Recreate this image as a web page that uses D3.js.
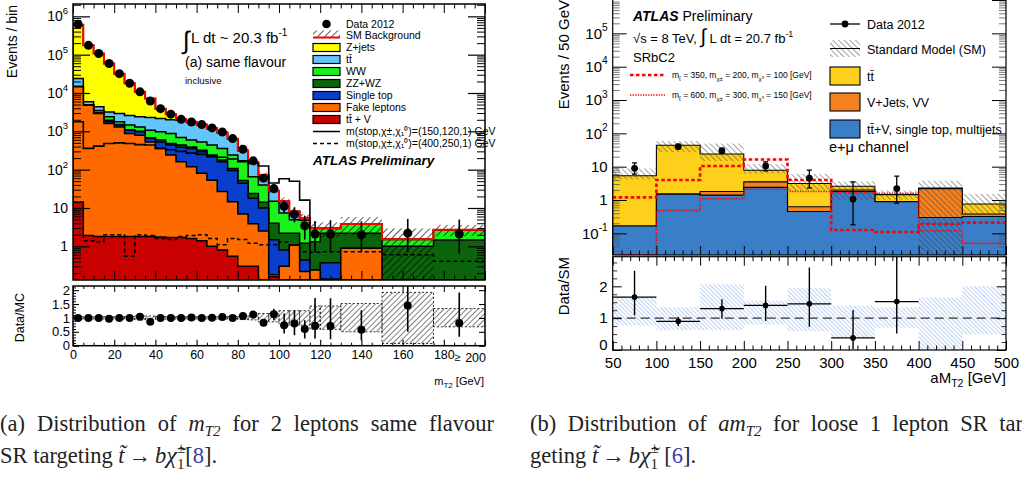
<!DOCTYPE html>
<html>
<head>
<meta charset="utf-8">
<script src="https://cdn.jsdelivr.net/npm/d3@7"></script>
<style>
  body { margin: 0; background: #fff; }
  svg { display: block; font-family: "Liberation Sans", Arial, sans-serif; }
  .cap { font-family: "Liberation Serif", "Times New Roman", serif; font-size: 22.5px; fill: #222; }
</style>
</head>
<body>
<script>
// ---------- left: mT2, 2 leptons same flavour ----------
const binsL = [0, 5, 10, 15, 20, 25, 30, 35, 40, 45, 50, 55, 60, 65, 70, 75, 80, 85, 90, 95,
  100, 105, 110, 115, 120, 130, 150, 175, 200];
const ttvL = [14, 1.9, 1.8, 1.8, 1.8, 1.8, 1.8, 1.8, 1.75, 1.7, 1.7, 1.6, 1.4, 1.0, 0.8, 0.55, 0.3, 0.3,
  0, 0.16, 0, 0, 0, 0, 0, 0, 0, 0];
const fakeL = [14500, 4800, 2900, 1600, 1300, 870, 790, 525, 355, 240, 160, 117, 79, 52, 26, 14, 6.7, 3.6,
  2.5, 0.02, 0.3, 1.07, 0.22, 0.24, 0.14, 0.89, 0, 0];
const stopL = [100, 50, 100, 180, 150, 200, 180, 125, 170, 200, 220, 238, 211, 163, 134, 80, 37, 14,
  7.5, 1.3, 0.5, 0, 0.22, 0, 0.23, 0, 0, 0];
const zzwzL = [100, 50, 100, 170, 50, 30, 30, 30, 65, 40, 60, 35, 30, 25, 18, 12, 8, 6,
  4, 2.5, 1.4, 1.13, 0.76, 1.08, 1.83, 1.31, 1.0, 1.46];
const wwL = [100, 50, 400, 450, 280, 350, 300, 390, 390, 390, 250, 200, 205, 200, 177, 133, 108, 41,
  26, 11, 5.2, 2.7, 3.6, 1.58, 0.7, 1.55, 0.5, 1.22];
const ttL = [9200, 950, 900, 800, 1120, 1150, 1100, 1230, 1170, 1130, 1260, 1110, 925, 710, 545, 390, 150, 87,
  28, 12, 7.1, 3.15, 0.5, 0.05, 0.03, 0.03, 0.01, 0.01];
const zjL = [576000, 169000, 102600, 55800, 29100, 15400, 8300, 4900, 1750, 800, 100, 80, 50, 70, 35, 15, 5, 3,
  4, 1, 0.5, 0.05, 0.2, 0.05, 0.02, 0.02, 0.01, 0.01];
const dataL = [620000, 175000, 107000, 59000, 32000, 18000, 10700, 6200, 3900, 2800, 2050, 1750, 1500, 1230,
  960, 645, 340, 170, 60, 32, 11, 6.8, 3.4, 2.1, 2.1, 2.0, 2.2, 2.1];
const dataErrLoL = [790, 420, 330, 240, 180, 130, 100, 80, 62, 53, 45, 42, 39, 35, 31, 25, 18, 13,
  8, 6, 3.6, 2.6, 1.9, 1.4, 1.4, 1.3, 1.5, 1.45];
const dataErrHiL = [790, 420, 330, 240, 180, 130, 100, 80, 62, 53, 45, 42, 39, 35, 31, 25, 18, 13,
  8, 6, 4.6, 3.6, 2.9, 2.5, 2.7, 2.5, 3.0, 2.9];
const sig150L = [1770, 360, 410, 480, 500, 480, 450, 440, 360, 330, 300, 270, 250, 230, 210, 190, 170, 145,
  125, 45, 58, 50, 16, 0.1, 0.1, 0.1, 0.1, 0.1];
const sig400L = [14, 1.4, 1.3, 2.0, 2.0, 0.55, 2.0, 1.9, 1.6, 1.5, 1.8, 1.9, 2.0, 1.6, 1.1, 1.6, 1.5, 1.2,
  1.1, 1.1, 1.3, 1.1, 0.72, 0.7, 0.72, 0.72, 0.6, 0.41];
const ratioL = [1.0, 1.0, 1.0, 0.97, 1.0, 1.0, 1.04, 0.86, 1.0, 1.0, 1.0, 1.02, 1.0, 1.01, 1.03, 1.0, 1.07, 1.12,
  0.83, 1.13, 0.74, 0.8, 0.6, 0.72, 0.71, 0.57, 1.45, 0.82];
const ratioErrLoL = [0.01, 0.01, 0.01, 0.01, 0.01, 0.01, 0.01, 0.02, 0.02, 0.02, 0.02, 0.03, 0.03, 0.03, 0.03,
  0.04, 0.05, 0.08, 0.12, 0.2, 0.3, 0.42, 0.34, 0.46, 0.48, 0.37, 0.95, 0.5];
const ratioErrHiL = [0.01, 0.01, 0.01, 0.01, 0.01, 0.01, 0.01, 0.02, 0.02, 0.02, 0.02, 0.03, 0.03, 0.03, 0.03,
  0.04, 0.05, 0.08, 0.12, 0.2, 0.42, 0.48, 0.32, 1.0, 1.0, 0.71, 0.9, 1.1];
const bandLoL = [0.96, 0.96, 0.96, 0.96, 0.96, 0.95, 0.93, 0.93, 0.95, 0.96, 0.96, 0.96, 0.96, 0.96, 0.96,
  0.95, 0.94, 0.93, 0.86, 0.86, 0.74, 0.74, 0.74, 0.59, 0.59, 0.5, 0.08, 0.68];
const bandHiL = [1.04, 1.04, 1.04, 1.04, 1.04, 1.05, 1.07, 1.07, 1.05, 1.04, 1.04, 1.04, 1.04, 1.04, 1.04,
  1.05, 1.06, 1.07, 1.16, 1.16, 1.26, 1.26, 1.26, 1.43, 1.43, 1.52, 1.92, 1.34];

// ---------- right: amT2, loose 1 lepton ----------
const binsR = [50, 100, 150, 200, 250, 300, 350, 400, 450, 500];
const otherR = [0.166, 1.5, 1.4, 2.4, 0.45, 1.8, 0.89, 0.30, 0.32];
const vjetsR = [0, 0.02, 0.4, 1.1, 0.18, 0.2, 0.01, 1.9, 0.06];
const ttR = [5.2, 42.5, 22.2, 4.3, 2.5, 0.6, 0.55, 0.1, 0.38];
const dataR = [8.9, 40, 30, 10.5, 4.5, 1.07, 2.2];
const dataLoR = [6, 34, 25, 7.5, 2.3, 0.18, 0.8];
const dataHiR = [13, 47, 36, 14, 7.9, 3.5, 5.2];
const ratioR = [1.66, 0.9, 1.3, 1.4, 1.45, 0.38, 1.52];
const ratioLoR = [1.09, 0.75, 0.98, 0.91, 0.73, 0.02, 0.52];
const ratioHiR = [2.49, 1.04, 1.59, 2.02, 2.59, 1.26, 2.95];
const bandLoR = [0.77, 0.62, 0.62, 0.8, 0.59, 0.39, 0.7, 0, 0.49];
const bandHiR = [1.65, 1.34, 2.06, 1.55, 1.94, 1.39, 1.34, 1.65, 2.01];
const sigAR = [1.2, 4.0, 10.5, 16.5, 4.0, 0.126, 0.11, 0.19, 0.21];
const sigBR = [0.023, 0.48, 1.1, 2.1, 1.8, 1.65, 1.6, 0.12, 0.05];

const svg = d3.select('body').append('svg').attr('width', 1022).attr('height', 477);
const defs = svg.append('defs');

function hatch(id, angle, gap, color, sw) {
  const p = defs.append('pattern').attr('id', id).attr('patternUnits', 'userSpaceOnUse')
    .attr('width', gap).attr('height', gap).attr('patternTransform', `rotate(${angle})`);
  p.append('line').attr('x1', 0).attr('y1', 0).attr('x2', 0).attr('y2', gap)
    .attr('stroke', color).attr('stroke-width', sw);
}
hatch('hL', 45, 5, '#000', 1.3);
hatch('hLr', 45, 4, '#000', 1);
hatch('hR', -45, 4, '#333', 0.9);
hatch('hRr', -45, 3, '#86aaea', 1.1);

function clip(id, x0, y0, x1, y1) {
  defs.append('clipPath').attr('id', id).append('rect')
    .attr('x', x0).attr('y', y0).attr('width', x1 - x0).attr('height', y1 - y0);
}

// step points for a histogram
function steps(edges, vals, x, y) {
  const pts = [];
  vals.forEach((v, i) => { pts.push([x(edges[i]), y(v)]); pts.push([x(edges[i + 1]), y(v)]); });
  return pts;
}
const line = d3.line();

function drawStack(g, edges, series, colors, x, y, bottom, sw) {
  for (let k = series.length - 1; k >= 0; k--) {
    const pts = steps(edges, series[k].map(d => d[1]), x, y);
    const poly = [[pts[0][0], bottom], ...pts, [pts[pts.length - 1][0], bottom]];
    g.append('path').attr('d', line(poly) + 'Z').attr('fill', colors[k])
      .attr('stroke', '#000').attr('stroke-width', sw);
  }
}

function logTicks(scale) {
  const [a, b] = scale.domain();
  const major = [], minor = [];
  for (let e = Math.floor(Math.log10(a)); e <= Math.ceil(Math.log10(b)); e++) {
    for (let k = 1; k < 10; k++) {
      const v = k * Math.pow(10, e);
      if (v < a || v > b) continue;
      (k === 1 ? major : minor).push(v);
    }
  }
  return { major, minor };
}

function yAxis(g, scale, x, vals, len, side, sw) {
  const ax = (side === 'left' ? d3.axisLeft(scale) : d3.axisRight(scale))
    .tickValues(vals).tickSizeInner(-len).tickSizeOuter(0).tickFormat('').tickPadding(5);
  const a = g.append('g').attr('transform', `translate(${x},0)`).call(ax);
  a.select('.domain').remove();
  a.selectAll('line').attr('stroke-width', sw || 1);
  return a;
}
function xAxis(g, scale, y, vals, len, side, sw) {
  const ax = (side === 'bottom' ? d3.axisBottom(scale) : d3.axisTop(scale))
    .tickValues(vals).tickSizeInner(-len).tickSizeOuter(0).tickFormat('').tickPadding(4);
  const a = g.append('g').attr('transform', `translate(0,${y})`).call(ax);
  a.select('.domain').remove();
  a.selectAll('line').attr('stroke-width', sw || 1);
  return a;
}

function powLabels(a, size) {
  a.selectAll('.tick text').each(function (d) {
    const t = d3.select(this).attr('font-size', size).attr('font-family', null).attr('fill', '#000');
    const e = Math.round(Math.log10(d));
    if (e === 0) t.text('1');
    else if (e === 1) t.text('10');
    else {
      t.append('tspan').text('10');
      t.append('tspan').attr('dy', -size * 0.5).attr('font-size', size * 0.68).text(e);
    }
  });
}

// rich text: parts = [str, opts]
function rich(t, parts) {
  let shift = 0;
  parts.forEach(([s, o = {}]) => {
    const sp = t.append('tspan').text(s);
    const want = o.sub ? o.sub : o.sup ? -o.sup : 0;
    if (want !== shift) { sp.attr('dy', want - shift); shift = want; }
    if (o.i) sp.attr('font-style', 'italic');
    if (o.b) sp.attr('font-weight', 'bold');
    if (o.size) sp.attr('font-size', o.size);
    if (o.fill) sp.attr('fill', o.fill);
    if (o.dx) sp.attr('dx', o.dx);
  });
  return t;
}

// ================= LEFT PANEL =================
const xL = d3.scaleLinear().domain([0, 200]).range([73, 485]);
const yL = d3.scaleLog().domain([0.132, 2.1e6]).range([280, 4]).clamp(true);
const ysL = v => yL(Math.max(v, 1e-6));
const yLr = d3.scaleLinear().domain([0, 2.15]).range([345.7, 286]);
clip('cL', 73, 4, 485, 280);
clip('cLr', 73, 286, 485, 345.7);

const keysL = ['ttv', 'fake', 'stop', 'zzwz', 'ww', 'tt', 'zj'];
const colorsL = ['#c80000', '#ff6a00', '#0a3fce', '#0b640b', '#1bf21b', '#62c6fb', '#ffff00'];
const rowsL = dataL.map((_, i) => ({ ttv: ttvL[i], fake: fakeL[i], stop: stopL[i], zzwz: zzwzL[i],
  ww: wwL[i], tt: ttL[i], zj: zjL[i] }));
const stackL = d3.stack().keys(keysL)(rowsL);
const totalL = stackL[stackL.length - 1].map(d => d[1]);
const midL = i => (binsL[i] + binsL[i + 1]) / 2;

const pL = svg.append('g').attr('clip-path', 'url(#cL)');
drawStack(pL, binsL, stackL, colorsL, xL, ysL, 281, 1.5);
pL.selectAll('rect.band').data(totalL).join('rect').attr('class', 'band')
  .attr('x', (d, i) => xL(binsL[i])).attr('width', (d, i) => xL(binsL[i + 1]) - xL(binsL[i]))
  .attr('y', (d, i) => ysL(d * bandHiL[i]))
  .attr('height', (d, i) => ysL(d * bandLoL[i]) - ysL(d * bandHiL[i]))
  .attr('fill', 'url(#hL)');
pL.append('path').attr('d', line(steps(binsL, totalL, xL, ysL)))
  .attr('fill', 'none').attr('stroke', '#ff0000').attr('stroke-width', 2);
pL.append('path').attr('d', line(steps(binsL, sig150L, xL, ysL)))
  .attr('fill', 'none').attr('stroke', '#000').attr('stroke-width', 1.6);
pL.append('path').attr('d', line(steps(binsL, sig400L, xL, ysL)))
  .attr('fill', 'none').attr('stroke', '#000').attr('stroke-width', 1.5).attr('stroke-dasharray', '4,3');
pL.selectAll('line.err').data(dataL).join('line').attr('class', 'err')
  .attr('x1', (d, i) => xL(midL(i))).attr('x2', (d, i) => xL(midL(i)))
  .attr('y1', (d, i) => ysL(d - dataErrLoL[i])).attr('y2', (d, i) => ysL(d + dataErrHiL[i]))
  .attr('stroke', '#000').attr('stroke-width', 1.6);
pL.selectAll('circle').data(dataL).join('circle')
  .attr('cx', (d, i) => xL(midL(i))).attr('cy', d => ysL(d)).attr('r', 4.5).attr('fill', '#000');

const tL = logTicks(yL);
powLabels(yAxis(svg, yL, 73, tL.major, 17, 'left', 1.2), 14);
yAxis(svg, yL, 73, tL.minor, 8, 'left', 1);
yAxis(svg, yL, 485, tL.major, 17, 'right', 1.2);
yAxis(svg, yL, 485, tL.minor, 8, 'right', 1);
const x20 = d3.range(0, 201, 20), x5 = d3.range(0, 201, 5).filter(v => v % 20);
xAxis(svg, xL, 4, x20, 9, 'top'); xAxis(svg, xL, 4, x5, 4.5, 'top');
xAxis(svg, xL, 280, x20, 9, 'bottom'); xAxis(svg, xL, 280, x5, 4.5, 'bottom');
svg.append('rect').attr('x', 73).attr('y', 4).attr('width', 412).attr('height', 276)
  .attr('fill', 'none').attr('stroke', '#000').attr('stroke-width', 1.5);

// ratio (left)
const rL = svg.append('g').attr('clip-path', 'url(#cLr)');
rL.selectAll('rect.band').data(bandLoL).join('rect').attr('class', 'band')
  .attr('x', (d, i) => xL(binsL[i])).attr('width', (d, i) => xL(binsL[i + 1]) - xL(binsL[i]))
  .attr('y', (d, i) => yLr(bandHiL[i])).attr('height', (d, i) => yLr(d) - yLr(bandHiL[i]))
  .attr('fill', 'url(#hLr)').attr('stroke', '#000').attr('stroke-width', 0.8).attr('stroke-dasharray', '2,2');
rL.selectAll('line.err').data(ratioL).join('line').attr('class', 'err')
  .attr('x1', (d, i) => xL(midL(i))).attr('x2', (d, i) => xL(midL(i)))
  .attr('y1', (d, i) => yLr(d - ratioErrLoL[i])).attr('y2', (d, i) => yLr(d + ratioErrHiL[i]))
  .attr('stroke', '#000').attr('stroke-width', 1.6);
rL.selectAll('circle').data(ratioL).join('circle')
  .attr('cx', (d, i) => xL(midL(i))).attr('cy', d => yLr(d)).attr('r', 4).attr('fill', '#000');

const ryL = yAxis(svg, yLr, 73, [0, 0.5, 1, 1.5, 2], 6, 'left', 1.1);
ryL.selectAll('.tick text').attr('font-size', 13).attr('font-family', null).attr('fill', '#000')
  .attr('dx', 2).text(d => d);
yAxis(svg, yLr, 73, d3.range(0.1, 2.15, 0.1).filter(v => Math.abs(v * 2 - Math.round(v * 2)) > 0.01), 3, 'left');
yAxis(svg, yLr, 485, [0, 0.5, 1, 1.5, 2], 6, 'right', 1.1);
const bxL = xAxis(svg, xL, 345.7, x20, 6, 'bottom', 1.1);
bxL.selectAll('.tick text').attr('font-size', 12.5).attr('font-family', null).attr('fill', '#000')
  .text(d => (d === 200 ? '' : d));
xAxis(svg, xL, 345.7, x5, 3, 'bottom');
xAxis(svg, xL, 286, x20, 6, 'top'); xAxis(svg, xL, 286, x5, 3, 'top');
svg.append('text').attr('x', xL(186.5)).attr('y', 361).attr('text-anchor', 'middle')
  .attr('font-size', 11).text('\u2265');
svg.append('text').attr('x', xL(200) + 1).attr('y', 362).attr('text-anchor', 'end')
  .attr('font-size', 12.5).text('200');
svg.append('rect').attr('x', 73).attr('y', 286).attr('width', 412).attr('height', 59.7)
  .attr('fill', 'none').attr('stroke', '#000').attr('stroke-width', 1.5);

// left titles
svg.append('text').attr('transform', 'translate(17,5) rotate(-90)').attr('text-anchor', 'end')
  .attr('font-size', 14).text('Events / bin');
svg.append('text').attr('transform', 'translate(24,293) rotate(-90)').attr('text-anchor', 'end')
  .attr('font-size', 12.5).text('Data/MC');
rich(svg.append('text').attr('x', 484).attr('y', 385).attr('text-anchor', 'end').attr('font-size', 11),
  [['m'], ['T2', { sub: 3, size: 8 }], [' [GeV]']]);

svg.append('text').attr('x', 183).attr('y', 49).attr('font-size', 25).text('\u222B');
rich(svg.append('text').attr('x', 191).attr('y', 43).attr('font-size', 15),
  [['L dt ~ 20.3 fb'], ['-1', { sup: 7, size: 10 }]]);
svg.append('text').attr('x', 185).attr('y', 67).attr('font-size', 14).text('(a) same flavour');
svg.append('text').attr('x', 185).attr('y', 84).attr('font-size', 9.5).text('inclusive');

// left legend
const legL = svg.append('g').attr('font-size', 10.5);
const legRows = [24, 35.5, 47.5, 59.5, 71.5, 83.5, 95.5, 107.5, 119.5, 131.5, 143.5];
const legNames = ['Data 2012', 'SM Background', 'Z+jets', 't\u0074\u0304', 'WW', 'ZZ+WZ', 'Single top',
  'Fake leptons', 't\u0074\u0304 + V', 'm(stop,\u03C7\u00B1,\u03C7\u2081\u2070)=(150,120,1) GeV',
  'm(stop,\u03C7\u00B1,\u03C7\u2081\u2070)=(400,250,1) GeV'];
legNames.forEach((n, i) => {
  legL.append('text').attr('x', 346).attr('y', legRows[i] + 3.8).text(n);
});
legL.append('circle').attr('cx', 326.5).attr('cy', legRows[0]).attr('r', 4.3);
legL.append('rect').attr('x', 313).attr('y', legRows[1] - 5).attr('width', 27).attr('height', 8).attr('fill', 'url(#hL)');
legL.append('line').attr('x1', 313).attr('x2', 340).attr('y1', legRows[1] + 2).attr('y2', legRows[1] + 2)
  .attr('stroke', '#f00').attr('stroke-width', 2);
colorsL.slice().reverse().forEach((c, k) => {
  legL.append('rect').attr('x', 313).attr('y', legRows[2 + k] - 4).attr('width', 27).attr('height', 8)
    .attr('fill', c).attr('stroke', '#000').attr('stroke-width', 1.2);
});
legL.append('line').attr('x1', 313).attr('x2', 340).attr('y1', legRows[9]).attr('y2', legRows[9])
  .attr('stroke', '#000').attr('stroke-width', 1.5);
legL.append('line').attr('x1', 313).attr('x2', 340).attr('y1', legRows[10]).attr('y2', legRows[10])
  .attr('stroke', '#000').attr('stroke-width', 1.5).attr('stroke-dasharray', '4,3');
svg.append('text').attr('x', 313).attr('y', 165).attr('font-size', 13.5).attr('font-weight', 'bold')
  .attr('font-style', 'italic').text('ATLAS Preliminary');

// ================= RIGHT PANEL =================
const xR = d3.scaleLinear().domain([50, 500]).range([612.7, 1006]);
const yR = d3.scaleLog().domain([0.0224, 1.15e6]).range([255, -2]).clamp(true);
const ysR = v => yR(Math.max(v, 1e-6));
const yRr = d3.scaleLinear().domain([0, 2.93]).range([350, 256.7]);
clip('cR', 612.7, -2, 1006, 255);
clip('cRr', 612.7, 256.7, 1006, 350);

const keysR = ['other', 'vjets', 'tt'];
const colorsR = ['#3a7ec8', '#f58220', '#fdd01c'];
const rowsR = ttR.map((_, i) => ({ other: otherR[i], vjets: vjetsR[i], tt: ttR[i] }));
const stackR = d3.stack().keys(keysR)(rowsR);
const totalR = stackR[stackR.length - 1].map(d => d[1]);
const midR = i => (binsR[i] + binsR[i + 1]) / 2;

const pR = svg.append('g').attr('clip-path', 'url(#cR)');
drawStack(pR, binsR, stackR, colorsR, xR, ysR, 256, 1.1);
pR.selectAll('rect.band').data(totalR).join('rect').attr('class', 'band')
  .attr('x', (d, i) => xR(binsR[i])).attr('width', (d, i) => xR(binsR[i + 1]) - xR(binsR[i]))
  .attr('y', (d, i) => ysR(d * bandHiR[i]))
  .attr('height', (d, i) => ysR(d * bandLoR[i]) - ysR(d * bandHiR[i]))
  .attr('fill', 'url(#hR)');
pR.append('path').attr('d', line(steps(binsR, sigAR, xR, ysR)))
  .attr('fill', 'none').attr('stroke', '#ff0000').attr('stroke-width', 2.6).attr('stroke-dasharray', '3.5,2.5');
pR.append('path').attr('d', line(steps(binsR, sigBR, xR, ysR)))
  .attr('fill', 'none').attr('stroke', '#ff0000').attr('stroke-width', 1.6).attr('stroke-dasharray', '1.3,1.3');
const eR = pR.append('g').attr('stroke', '#000').attr('stroke-width', 1.3);
dataR.forEach((d, i) => {
  const cx = xR(midR(i));
  eR.append('line').attr('x1', cx).attr('x2', cx).attr('y1', ysR(dataLoR[i])).attr('y2', ysR(dataHiR[i]));
  eR.append('line').attr('x1', cx - 2.5).attr('x2', cx + 2.5).attr('y1', ysR(dataLoR[i])).attr('y2', ysR(dataLoR[i]));
  eR.append('line').attr('x1', cx - 2.5).attr('x2', cx + 2.5).attr('y1', ysR(dataHiR[i])).attr('y2', ysR(dataHiR[i]));
});
pR.selectAll('circle').data(dataR).join('circle')
  .attr('cx', (d, i) => xR(midR(i))).attr('cy', d => ysR(d)).attr('r', 3.4).attr('fill', '#000');

const tR = logTicks(yR);
const majR = tR.major.filter(v => yR(v) > 8);
powLabels(yAxis(svg, yR, 612.7, majR, 14, 'left', 1), 15);
yAxis(svg, yR, 612.7, tR.minor, 7, 'left', 0.8).selectAll('line').attr('stroke', '#555');
yAxis(svg, yR, 1006, tR.major, 14, 'right', 1);
yAxis(svg, yR, 1006, tR.minor, 7, 'right', 0.8).selectAll('line').attr('stroke', '#555');
const x50 = d3.range(50, 501, 50), x10 = d3.range(50, 501, 10).filter(v => v % 50);
xAxis(svg, xR, 255, x50, 9, 'bottom'); xAxis(svg, xR, 255, x10, 4.5, 'bottom');
svg.append('rect').attr('x', 612.7).attr('y', -2).attr('width', 393.3).attr('height', 257)
  .attr('fill', 'none').attr('stroke', '#000').attr('stroke-width', 1.2);

// ratio (right)
const rR = svg.append('g').attr('clip-path', 'url(#cRr)');
rR.selectAll('rect.band').data(bandLoR).join('rect').attr('class', 'band')
  .attr('x', (d, i) => xR(binsR[i])).attr('width', (d, i) => xR(binsR[i + 1]) - xR(binsR[i]))
  .attr('y', (d, i) => yRr(bandHiR[i])).attr('height', (d, i) => yRr(d) - yRr(bandHiR[i]))
  .attr('fill', 'url(#hRr)');
rR.append('line').attr('x1', xR(50)).attr('x2', xR(500)).attr('y1', yRr(1)).attr('y2', yRr(1))
  .attr('stroke', '#333').attr('stroke-width', 1.2).attr('stroke-dasharray', '9,5');
const eRr = rR.append('g').attr('stroke', '#000').attr('stroke-width', 1.4);
ratioR.forEach((d, i) => {
  const cx = xR(midR(i));
  eRr.append('line').attr('x1', cx).attr('x2', cx).attr('y1', yRr(ratioLoR[i])).attr('y2', yRr(ratioHiR[i]));
  eRr.append('line').attr('x1', xR(binsR[i])).attr('x2', xR(binsR[i + 1])).attr('y1', yRr(d)).attr('y2', yRr(d));
});
rR.selectAll('circle').data(ratioR).join('circle')
  .attr('cx', (d, i) => xR(midR(i))).attr('cy', d => yRr(d)).attr('r', 2.8).attr('fill', '#000');

const ryR = yAxis(svg, yRr, 612.7, [0, 1, 2], 9, 'left', 1);
ryR.selectAll('.tick text').attr('font-size', 15).attr('font-family', null).attr('fill', '#000')
  .attr('dy', d => (d === 0 ? '-0.05em' : '0.32em')).text(d => d);
yAxis(svg, yRr, 612.7, [0.25, 0.5, 0.75, 1.25, 1.5, 1.75, 2.25, 2.5, 2.75], 4.5, 'left', 0.8);
yAxis(svg, yRr, 1006, [0, 1, 2], 9, 'right', 1);
yAxis(svg, yRr, 1006, [0.25, 0.5, 0.75, 1.25, 1.5, 1.75, 2.25, 2.5, 2.75], 4.5, 'right', 0.8);
const bxR = xAxis(svg, xR, 350, x50, 9, 'bottom', 1);
bxR.selectAll('.tick text').attr('font-size', 15).attr('font-family', null).attr('fill', '#000')
  .attr('dy', '0.9em').text(d => d);
xAxis(svg, xR, 350, x10, 4.5, 'bottom');
xAxis(svg, xR, 256.7, x50, 9, 'top'); xAxis(svg, xR, 256.7, x10, 4.5, 'top');
svg.append('rect').attr('x', 612.7).attr('y', 256.7).attr('width', 393.3).attr('height', 93.3)
  .attr('fill', 'none').attr('stroke', '#000').attr('stroke-width', 1.2);

// right titles
svg.append('text').attr('transform', 'translate(569,0) rotate(-90)').attr('text-anchor', 'end')
  .attr('font-size', 15).text('Events / 50 GeV');
svg.append('text').attr('transform', 'translate(569,257) rotate(-90)').attr('text-anchor', 'end')
  .attr('font-size', 15).text('Data/SM');
rich(svg.append('text').attr('x', 1006).attr('y', 383).attr('text-anchor', 'end').attr('font-size', 15),
  [['aM'], ['T2', { sub: 4, size: 10.5 }], [' [GeV]']]);

rich(svg.append('text').attr('x', 633).attr('y', 21).attr('font-size', 14),
  [['ATLAS', { b: 1, i: 1 }], [' Preliminary']]);
rich(svg.append('text').attr('x', 633).attr('y', 43).attr('font-size', 13),
  [['\u221As = 8 TeV, '], ['\u222B', { size: 20 }], [' L dt = 20.7 fb'], ['-1', { sup: 6, size: 9 }]]);
svg.append('text').attr('x', 633).attr('y', 62).attr('font-size', 13).text('SRbC2');

const sigLeg = [[75, '350', '200', '100', '3.5,2.5', 2.6], [95, '600', '300', '150', '1.3,1.3', 1.6]];
sigLeg.forEach(([y, a, b, c, dash, sw]) => {
  svg.append('line').attr('x1', 630).attr('x2', 665).attr('y1', y).attr('y2', y)
    .attr('stroke', '#f00').attr('stroke-width', sw).attr('stroke-dasharray', dash);
  rich(svg.append('text').attr('x', 672).attr('y', y + 3).attr('font-size', 8.5),
    [['m'], ['t\u0303', { sub: 2.5, size: 6 }], [` = ${a}, m`], ['\u03C7\u00B1', { sub: 2.5, size: 6 }],
     [` = ${b}, m`], ['\u03C7\u2070', { sub: 2.5, size: 6 }], [` = ${c} [GeV]`]]);
});

const legR = svg.append('g').attr('font-size', 12.5);
legR.append('line').attr('x1', 830).attr('x2', 860).attr('y1', 24).attr('y2', 24).attr('stroke', '#000').attr('stroke-width', 1.3);
legR.append('circle').attr('cx', 845).attr('cy', 24).attr('r', 3.4);
legR.append('rect').attr('x', 830).attr('y', 40).attr('width', 30).attr('height', 17).attr('fill', 'url(#hR)');
legR.append('line').attr('x1', 830).attr('x2', 860).attr('y1', 48.5).attr('y2', 48.5).attr('stroke', '#000').attr('stroke-width', 1);
[[67, colorsR[2]], [93, colorsR[1]], [120, colorsR[0]]].forEach(([y, c]) => {
  legR.append('rect').attr('x', 830).attr('y', y).attr('width', 30).attr('height', 18)
    .attr('fill', c).attr('stroke', '#000').attr('stroke-width', 1.1);
});
[[24, 'Data 2012'], [49, 'Standard Model (SM)'], [76, 't\u0074\u0304'], [102, 'V+Jets, VV'],
 [129, 't\u0074\u0304+V, single top, multijets']].forEach(([y, s]) => {
  legR.append('text').attr('x', 867).attr('y', y + 4.5).text(s);
});
svg.append('text').attr('x', 829).attr('y', 152).attr('font-size', 14.5).text('e+\u03BC channel');

// ================= CAPTIONS =================
function justify(t, width) {
  const w = t.node().getComputedTextLength();
  const n = (t.text().match(/ /g) || []).length;
  if (n && width > w) t.attr('word-spacing', (width - w) / n);
}
const capA = rich(svg.append('text').attr('class', 'cap').attr('x', 0).attr('y', 431),
  [['(a) Distribution of '], ['m', { i: 1 }], ['T2', { i: 1, sub: 5, size: 15 }], [' for 2 leptons same flavour']]);
justify(capA, 494);
rich(svg.append('text').attr('class', 'cap').attr('x', 0).attr('y', 463),
  [['SR targeting '], ['t\u0303', { i: 1 }], ['\u2192', { dx: 4 }], ['b', { i: 1, dx: 4 }],
   ['\u03C7\u0303', { i: 1, size: 24 }], ['1', { sub: 6, size: 15 }],
   ['\u00B1', { sup: 10, size: 15, dx: -7.5 }], ['['], ['8', { fill: '#3a3aa8' }], [']. ']]);
const capB = rich(svg.append('text').attr('class', 'cap').attr('x', 530).attr('y', 431),
  [['(b) Distribution of '], ['am', { i: 1 }], ['T2', { i: 1, sub: 5, size: 15 }], [' for loose 1 lepton SR tar-']]);
justify(capB, 500);
rich(svg.append('text').attr('class', 'cap').attr('x', 530).attr('y', 463),
  [['geting '], ['t\u0303', { i: 1 }], ['\u2192', { dx: 4 }], ['b', { i: 1, dx: 4 }],
   ['\u03C7\u0303', { i: 1, size: 24 }], ['1', { sub: 6, size: 15 }],
   ['\u00B1', { sup: 10, size: 15, dx: -7.5 }], [' ['], ['6', { fill: '#3a3aa8' }], ['].']]);
</script>
</body>
</html>
